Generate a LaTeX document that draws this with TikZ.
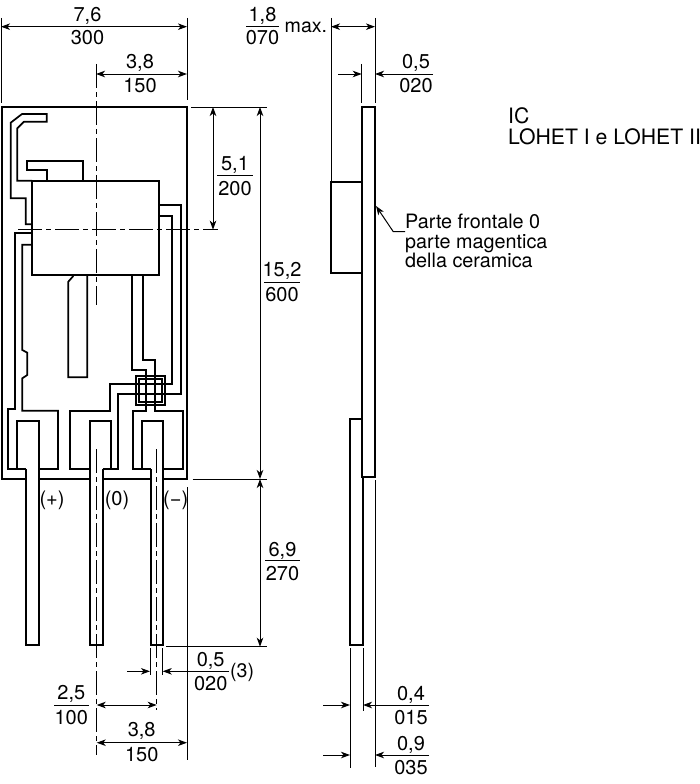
\documentclass[tikz,border=0pt]{standalone}
\usepackage{tikz}
\usepackage{xcolor}
\usepackage{fontspec}
\setmainfont{TeX Gyre Heros}
\usetikzlibrary{arrows.meta}

\tikzset{
	outline/.style={line width=2pt,line join=miter},
	trace/.style={line width=1.7pt,line join=miter},
	dimline/.style={line width=1pt},
	arrowboth/.style={dimline,{Stealth[length=9pt,width=6.5pt,inset=2.5pt]}-{Stealth[length=9pt,width=6.5pt,inset=2.5pt]}},
	arrowhead/.style={dimline,-{Stealth[length=9pt,width=6.5pt,inset=2.5pt]}},
	axisline/.style={line width=1pt,dash pattern=on 24pt off 4pt on 5pt off 4pt},
	dimtext/.style={font=\fontsize{20}{20}\selectfont,inner sep=0pt,anchor=base},
	sidetext/.style={font=\fontsize{19.6}{19.6}\selectfont,inner sep=0pt,anchor=base west},
	notetext/.style={font=\fontsize{19.8}{19.8}\selectfont,inner sep=0pt,anchor=base west},
	typetext/.style={font=\fontsize{21.2}{21.2}\selectfont,inner sep=0pt,anchor=base west}
}

\begin{document}
\begin{tikzpicture}[x=1pt,y=-1pt]
	\useasboundingbox (0,0) rectangle (700,784);

	% outer body, front view
	\draw[outline] (26,479) -- (1.5,479) -- (1.5,107) -- (187,107) -- (187,479) -- (163.3,479);
	\draw[outline] (38.7,479) -- (90,479);
	\draw[outline] (102.7,479) -- (150.7,479);
	\node[draw,fill=white,outline,minimum width=127pt,minimum height=94pt,inner sep=0pt] (chip) at (95.5,228) {};

	% top left traces
	\draw[trace] (32,224.3) -- (25.7,224.3) -- (25.7,198.3) -- (10.7,198.3) -- (10.7,122.7) -- (22,114) -- (46.7,114) -- (46.7,121.7) -- (24,121.7) -- (17.3,128.3) -- (17.3,180.7) -- (32,180.7);
	\draw[trace] (47.3,180.7) -- (47.3,170) -- (26.7,170) -- (26.7,160.7) -- (83,160.7) -- (83,180.7);

	% left traces
	\draw[trace] (32,233.3) -- (15,233.3) -- (15,409.3) -- (8.3,409.3) -- (8.3,469) -- (26,469);
	\draw[trace] (32,244.7) -- (22.3,244.7) -- (22.3,350) -- (27.3,352.7) -- (27.3,375) -- (22.3,378.3) -- (22.3,410.7) -- (58,410.7) -- (58,469) -- (38.7,469);

	% finger below the chip
	\draw[trace] (73.3,276) -- (68.3,281.7) -- (68.3,377.3) -- (87.3,377.3) -- (87.3,276);

	% middle pad and traces
	\draw[trace] (90,469) -- (70,469) -- (70,410.7) -- (110,410.7) -- (110,384) -- (171.7,384) -- (171.7,216) -- (159,216);
	\draw[trace] (102.7,469) -- (118.3,469) -- (118.3,394) -- (180.7,394) -- (180.7,205) -- (159,205);

	% right pad and traces
	\draw[trace] (132.3,276) -- (132.3,370) -- (146,370) -- (146,410.7) -- (133.3,410.7) -- (133.3,469) -- (150.7,469);
	\draw[trace] (142.7,276) -- (142.7,360) -- (155,360) -- (155,410.7) -- (183.3,410.7) -- (183.3,469) -- (163.3,469);

	% crossing square
	\draw[trace] (135.7,376) rectangle (165,405);
	\draw[trace] (139.3,379.3) rectangle (161.7,401.7);

	% pins, front view
	\foreach \tabl/\tabr in {16.7/38.7,90/111.3,142.3/163.3}
	{
		\draw[trace] (\tabl,469) -- (\tabl,420.7) -- (\tabr,420.7) -- (\tabr,469);
	}
	\draw[outline] (26,469) -- (26,645) -- (38.7,645) -- (38.7,469);
	\draw[outline] (90,469) -- (90,645) -- (102.7,645) -- (102.7,469);
	\draw[outline] (150.7,469) -- (150.7,645) -- (163.3,645) -- (163.3,469);

	% centre lines
	\draw[axisline] (96,64) -- (96,305);
	\draw[axisline] (18,229.7) -- (218,229.7);
	\draw[axisline] (96.7,449) -- (96.7,755);
	\draw[axisline] (156.7,449) -- (156.7,710);

	% side view
	\draw[outline] (361.5,107) rectangle (375,477);
	\draw[outline] (361.5,182) -- (331,182) -- (331,273) -- (361.5,273);
	\draw[outline] (361.5,419) -- (350,419) -- (350,645) -- (363,645) -- (363,477);

	% extension lines, front view
	\draw[dimline] (1,18) -- (1,103);
	\draw[dimline] (187,18) -- (187,100);
	\draw[dimline] (191,107) -- (267,107);
	\draw[dimline] (192.5,479) -- (267,479);
	\draw[dimline] (166,646.7) -- (267,646.7);
	\draw[dimline] (150,648) -- (150,675);
	\draw[dimline] (162.7,648) -- (162.7,675);
	\draw[dimline] (187,487) -- (187,760);

	% extension lines, side view
	\draw[dimline] (331,18) -- (331,182);
	\draw[dimline] (375,18) -- (375,103);
	\draw[dimline] (361.7,64) -- (361.7,103);
	\draw[dimline] (350,648) -- (350,768);
	\draw[dimline] (363,648) -- (363,711);
	\draw[dimline] (375,480) -- (375,767);

	% dimensions, front view
	\draw[arrowboth] (1,26.7) -- (187,26.7);
	\draw[arrowboth] (96,74) -- (187,74);
	\draw[arrowboth] (213,107) -- (213,229.7);
	\draw[arrowboth] (260,107) -- (260,479);
	\draw[arrowboth] (260,479) -- (260,646.7);
	\draw[arrowhead] (127,671.3) -- (150,671.3);
	\draw[arrowhead] (229,671.3) -- (162.7,671.3);
	\draw[arrowboth] (96.7,705) -- (156.7,705);
	\draw[arrowboth] (96.7,742.7) -- (187,742.7);
	\draw[dimline] (217,175.7) -- (252.7,175.7);
	\draw[dimline] (264.3,282.3) -- (299.7,282.3);
	\draw[dimline] (265,560.7) -- (300,560.7);
	\draw[dimline] (54,705) -- (89,705);

	% dimensions, side view
	\draw[dimline] (246,26.7) -- (279,26.7);
	\draw[arrowboth] (331,26.7) -- (375,26.7);
	\draw[arrowhead] (338,74) -- (361.7,74);
	\draw[arrowhead] (433,74) -- (375,74);
	\draw[arrowhead] (323,705) -- (350,705);
	\draw[arrowhead] (429,705) -- (363,705);
	\draw[arrowhead] (323,755) -- (350,755);
	\draw[arrowhead] (429,755) -- (375,755);

	% dimension texts
	\node[dimtext] (widthtop) at (87.5,21.7) {7,6};
	\node[dimtext] (widthbot) at (87.5,45) {300};
	\node[dimtext] (halftop) at (140,68.5) {3,8};
	\node[dimtext] (halfbot) at (140,92.7) {150};
	\node[dimtext] (axistop) at (235,170.7) {5,1};
	\node[dimtext] (axisbot) at (235,195) {200};
	\node[dimtext] (bodytop) at (282,276.7) {15,2};
	\node[dimtext] (bodybot) at (282,301.7) {600};
	\node[dimtext] (pintop) at (282.5,556) {6,9};
	\node[dimtext] (pinbot) at (282.5,580) {270};
	\node[dimtext] (leadtop) at (210.7,666.7) {0,5};
	\node[dimtext] (leadbot) at (210.7,690.7) {020};
	\node[sidetext] (leadnote) at (230,677) {(3)};
	\node[dimtext] (pitchtop) at (71.3,699.3) {2,5};
	\node[dimtext] (pitchbot) at (71.3,724) {100};
	\node[dimtext] (spantop) at (141.7,736.7) {3,8};
	\node[dimtext] (spanbot) at (141.7,761.7) {150};
	\node[dimtext] (depthtop) at (262.5,21.7) {1,8};
	\node[dimtext] (depthbot) at (262.5,45) {070};
	\node[sidetext] (depthmax) at (284.5,33) {max.};
	\node[dimtext] (platetop) at (416,68.3) {0,5};
	\node[dimtext] (platebot) at (416,92.7) {020};
	\node[dimtext] (thintop) at (411,700) {0,4};
	\node[dimtext] (thinbot) at (411,724) {015};
	\node[dimtext] (thicktop) at (411,750) {0,9};
	\node[dimtext] (thickbot) at (411,774) {035};

	% pin labels
	\node[dimtext] (pinplus) at (52,505) {(+)};
	\node[dimtext] (pinzero) at (117,505) {(0)};
	\node[dimtext] (pinminus) at (175.7,505) {(\textminus)};

	% notes
	\node[typetext] (typea) at (508,123) {IC};
	\node[typetext] (typeb) at (508,144) {LOHET I e LOHET II};
	\node[notetext] (notea) at (405,228) {Parte frontale 0};
	\node[notetext] (noteb) at (405,248) {parte magentica};
	\node[notetext] (notec) at (405,267) {della ceramica};
	\coordinate (noteknee) at (393.3,231.7);
	\coordinate (notetip) at (376,206);
	\draw[arrowhead] ([yshift=-3.7pt]notea.base west) -- (noteknee) -- (notetip);
\end{tikzpicture}
\end{document}
